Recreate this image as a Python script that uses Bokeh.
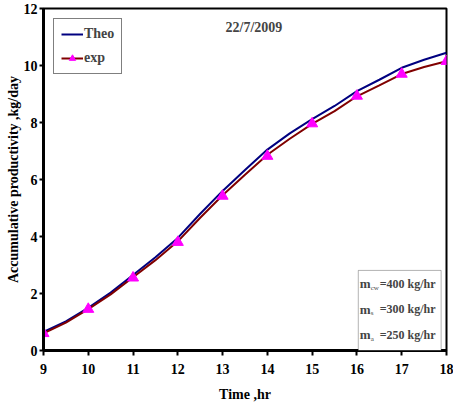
from bokeh.plotting import figure
from bokeh.models import Range1d, Label, BoxAnnotation, Legend, LegendItem, FixedTicker
from bokeh.embed import file_html
from bokeh.resources import INLINE

# curve readings every half hour
line_hours = [9, 9.5, 10, 10.5, 11, 11.5, 12, 12.5, 13, 13.5, 14, 14.5, 15, 15.5, 16, 16.5, 17, 17.5, 18]
theo = [0.65, 1.02, 1.5, 2.03, 2.65, 3.27, 3.95, 4.8, 5.6, 6.33, 7.05, 7.62, 8.12, 8.58, 9.1, 9.5, 9.92, 10.2, 10.45]
exp_line = [0.6, 0.98, 1.45, 1.97, 2.57, 3.17, 3.83, 4.66, 5.45, 6.17, 6.87, 7.43, 7.95, 8.4, 8.92, 9.3, 9.7, 9.95, 10.15]
# measured points (markers)
hours = [9, 10, 11, 12, 13, 14, 15, 16, 17, 18]
exp = [0.6, 1.45, 2.55, 3.8, 5.42, 6.82, 7.96, 8.93, 9.7, 10.15]
y_ticks = [0, 2, 4, 6, 8, 10, 12]
date_text = "22/7/2009"
box_lines = [("m", "cw", "=400 kg/hr"), ("m", "s", " =300 kg/hr"), ("m", "a", " =250 kg/hr")]

FONT = "'Liberation Serif', 'Times New Roman', serif"

p = figure(width=453, height=404, output_backend="svg", toolbar_location=None,
           x_range=Range1d(9, 18), y_range=Range1d(0, 12),
           min_border_left=43, min_border_right=7, min_border_top=8, min_border_bottom=54)
p.background_fill_color = "white"
p.border_fill_color = "white"
p.grid.visible = False
p.outline_line_color = "black"
p.outline_line_width = 2

for ax in (p.xaxis[0], p.yaxis[0]):
    ax.axis_line_width = 3
    ax.axis_line_color = "black"
    ax.major_tick_line_width = 2
    ax.major_tick_line_color = "black"
    ax.major_tick_out = 5
    ax.major_tick_in = 0
    ax.minor_tick_line_color = None
    ax.major_label_text_font = FONT
    ax.major_label_text_font_style = "bold"
    ax.major_label_text_font_size = "14px"
    ax.major_label_text_color = "black"
    ax.axis_label_text_font = FONT
    ax.axis_label_text_font_style = "bold"
    ax.axis_label_text_color = "black"

p.xaxis.ticker = FixedTicker(ticks=hours)
p.yaxis.ticker = FixedTicker(ticks=y_ticks)
p.xaxis.axis_label = "Time ,hr"
p.xaxis.axis_label_text_font_size = "14px"
p.xaxis.major_label_standoff = 8
p.xaxis.axis_label_standoff = 10
p.yaxis.axis_label = "Accumulative productivity ,kg/day"
p.yaxis.axis_label_text_font_size = "14px"
p.yaxis.major_label_standoff = 2
p.yaxis.axis_label_standoff = 0
p.yaxis.major_tick_out = 4

r_theo = p.line(line_hours, theo, line_color="#000080", line_width=2)
r_exp = p.line(line_hours, exp_line, line_color="#800000", line_width=2)
r_pts = p.scatter(hours, exp, marker="triangle", size=11, fill_color="#FF00FF", line_color="#FF00FF")

legend = Legend(items=[LegendItem(label="Theo", renderers=[r_theo]),
                       LegendItem(label="exp", renderers=[r_exp, r_pts])],
                location="top_left")
legend.label_text_font = FONT
legend.label_text_font_style = "bold"
legend.label_text_font_size = "14px"
legend.border_line_color = "black"
legend.border_line_width = 1
legend.glyph_width = 22
legend.glyph_height = 16
legend.spacing = 8
legend.padding = 7
legend.margin = 10
legend.label_standoff = 1
p.add_layout(legend)

p.add_layout(Label(x=13.7, y=11.35, text=date_text, text_font=FONT, text_font_style="bold",
                   text_font_size="14px", text_align="center", text_baseline="middle"))

p.add_layout(BoxAnnotation(left=16.03, right=17.88, bottom=0, top=2.81,
                           fill_color="white", fill_alpha=1.0, line_color="black", line_width=1))

ys = [2.35, 1.44, 0.56]
for (m, sub, rest), yy in zip(box_lines, ys):
    p.add_layout(Label(x=16.06, y=yy, text=m, text_font=FONT, text_font_style="bold",
                       text_font_size="13px", text_baseline="middle"))
    p.add_layout(Label(x=16.06, y=yy, x_offset=11, y_offset=-4, text=sub, text_font=FONT,
                       text_font_size="7px", text_baseline="middle"))
    p.add_layout(Label(x=16.06, y=yy, x_offset=20, text=rest, text_font=FONT, text_font_style="bold",
                       text_font_size="12px", text_baseline="middle"))

open("out.html", "w").write(file_html(p, INLINE))
